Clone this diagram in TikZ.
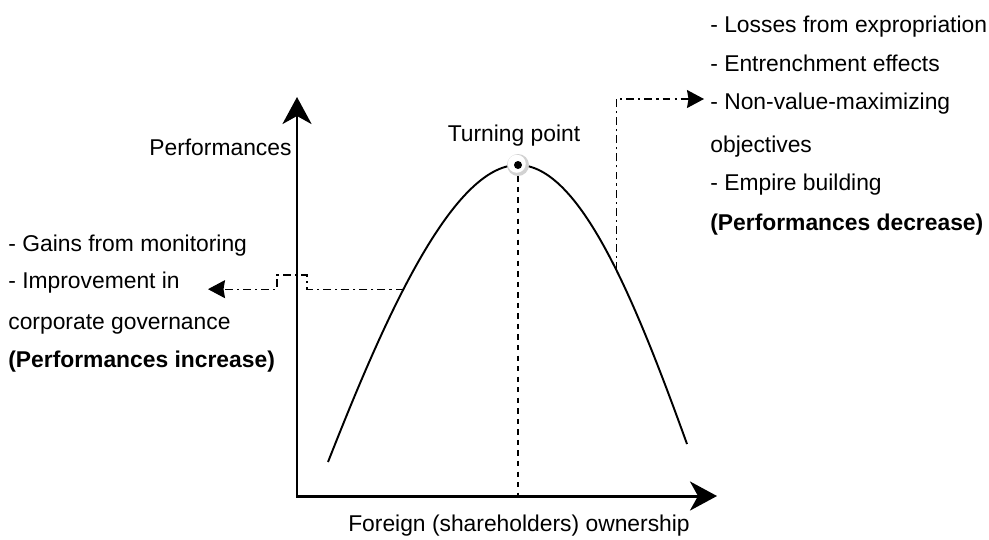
\documentclass[tikz,border=0pt]{standalone}
\usepackage{fontspec}
\setmainfont{Liberation Sans}
\usetikzlibrary{arrows.meta,positioning}

\begin{document}
\begin{tikzpicture}[x=0.02cm,y=-0.02cm,font=\fontsize{13}{15}\selectfont,
    lbl/.style={anchor=base west,inner sep=0pt},
    axis/.style={line width=1.7pt,{Stealth[length=0.54cm,width=0.58cm,inset=0.16cm]}-{Stealth[length=0.54cm,width=0.58cm,inset=0.16cm]}},
    dashdot/.style={line width=0.7pt,dash pattern=on 4.5pt off 2.3pt on 1.2pt off 2.3pt,
      -{Stealth[length=0.34cm,width=0.36cm,inset=0.03cm]}}]
  \useasboundingbox (0,0) rectangle (989,539);
  % axes
  \coordinate (o) at (297,496);
  \draw[axis] (297,97) |- (717,496);
  % curve
  \draw[line width=1.1pt] (328,462) .. controls (380,330) and (450,165) .. (518,165) coordinate[pos=0.43] (cl)
        .. controls (580,165) and (635,300) .. (687,444) coordinate[pos=0.56] (cr);
  \node[circle,fill=gray!35,minimum size=0.44cm,inner sep=0pt] (tp) at (518,165) {};
  \fill[white] ([shift={(-0.025cm,0.025cm)}]tp.center) circle (0.18cm);
  \node[circle,fill=black,inner sep=0pt,minimum size=0.16cm] (tpd) at (tp) {};
  \draw[dashed,line width=0.7pt] (tp.south) -- (tp.south |- o);
  \node[anchor=base] (turn) at (514,141) {Turning point};
  \node[lbl] (perf) at (149,155) {Performances};
  \node[anchor=base] (own) at (519,531) {Foreign (shareholders) ownership};
  % connectors
  \coordinate (hop) at (307,275);
  \coordinate (hopt) at (277,275);
  \coordinate (la) at (208,0);
  \coordinate (ra) at (704,99);
  \draw[dashdot] (cl) -- (cl -| hop) |- (hopt) |- (cl -| la);
  \draw[dashdot] (cr) |- (ra);
  % text blocks
  \foreach \t/\y [count=\i] in {- Gains from monitoring/251,- Improvement in/288,
      corporate governance/329,{\bfseries (Performances increase)}/367}
    \node[lbl] (g\i) at (8,\y) {\t};
  \foreach \t/\y [count=\i] in {- Losses from expropriation/32,- Entrenchment effects/71,
      - Non-value-maximizing/109,objectives/152,- Empire building/190,
      {\bfseries (Performances decrease)}/230}
    \node[lbl] (d\i) at (710,\y) {\t};
\end{tikzpicture}
\end{document}
